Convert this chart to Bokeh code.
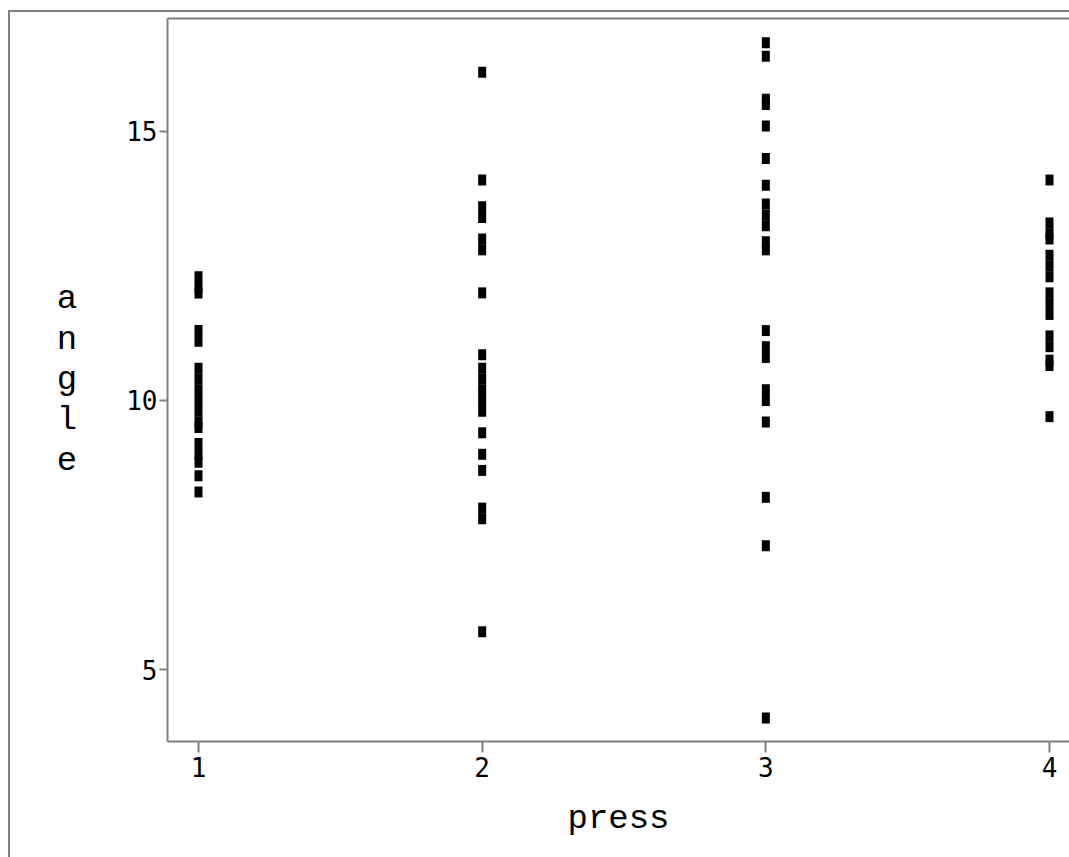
from bokeh.plotting import figure
from bokeh.models import ColumnDataSource, FixedTicker, LinearAxis, Range1d
from bokeh.embed import file_html
from bokeh.resources import INLINE

# Data
press_levels = [1, 2, 3, 4]
angle_press1 = [12.3, 12.1, 12.0, 11.3, 11.1, 10.6, 10.4, 10.2, 10.0, 9.8, 9.6, 9.5,
                9.2, 9.0, 8.85, 8.6, 8.3]
angle_press2 = [16.1, 14.1, 13.6, 13.4, 13.0, 12.8, 12.0, 10.85, 10.6, 10.4, 10.2,
                10.0, 9.8, 9.4, 9.0, 8.7, 8.0, 7.8, 5.7]
angle_press3 = [16.65, 16.4, 15.6, 15.5, 15.1, 14.5, 14.0, 13.65, 13.45, 13.25, 12.95,
                12.8, 11.3, 11.0, 10.8, 10.2, 10.0, 9.6, 8.2, 7.3, 4.1]
angle_press4 = [14.1, 13.3, 13.1, 13.0, 12.7, 12.5, 12.3, 12.0, 11.8, 11.6, 11.2,
                11.0, 10.75, 10.65, 9.7]
y_ticks = [5, 10, 15]
x_label = "press"
y_label = "angle"

xs, ys = [], []
for lvl, vals in zip(press_levels, [angle_press1, angle_press2, angle_press3, angle_press4]):
    xs += [lvl] * len(vals)
    ys += vals
src = ColumnDataSource(dict(x=xs, y=ys))

GRAY = "#808080"
TICK_FONT = "'DejaVu Sans Mono', monospace"
MONO = "'Liberation Mono', 'DejaVu Sans Mono', monospace"

p = figure(width=1069, height=857, output_backend="svg", toolbar_location=None,
           x_range=Range1d(0.8907, 4.0705), y_range=Range1d(3.662, 17.10),
           min_border_left=167, min_border_right=0, min_border_top=18, min_border_bottom=116,
           x_axis_location=None, y_axis_location=None)
p.outline_line_color = None
p.grid.visible = False
p.background_fill_color = "white"
p.border_fill_color = None
p.styles = {
    "background": (f"linear-gradient({GRAY},{GRAY}) 8px 10px / 2px 100% no-repeat, "
                   f"linear-gradient({GRAY},{GRAY}) 8px 10px / 100% 2px no-repeat, white")
}

xaxis = LinearAxis(ticker=FixedTicker(ticks=press_levels), axis_label=x_label)
yaxis = LinearAxis(ticker=FixedTicker(ticks=y_ticks), axis_label="\n".join(y_label))
top = LinearAxis(ticker=FixedTicker(ticks=[]))
for ax in (xaxis, yaxis, top):
    ax.axis_line_color = GRAY
    ax.axis_line_width = 2
    ax.major_tick_line_color = GRAY
    ax.major_tick_line_width = 2
    ax.major_tick_in = 0
    ax.minor_tick_line_color = None
    ax.major_label_text_font = TICK_FONT
    ax.major_label_text_font_size = "26px"
    ax.major_label_text_color = "black"
    ax.axis_label_text_font = MONO
    ax.axis_label_text_font_size = "34px"
    ax.axis_label_text_font_style = "normal"
    ax.axis_label_text_color = "black"
xaxis.major_tick_out = 11
xaxis.major_label_standoff = 4
xaxis.axis_label_standoff = 20
yaxis.major_tick_out = 8
yaxis.major_label_standoff = 2
yaxis.axis_label_standoff = 46
yaxis.axis_label_text_line_height = 1.06
if "axis_label_orientation" in yaxis.properties():
    yaxis.axis_label_orientation = "horizontal"
top.major_tick_out = 0
top.major_label_standoff = 0
top.major_label_text_font_size = "0px"
p.add_layout(xaxis, "below")
p.add_layout(yaxis, "left")
p.add_layout(top, "above")

p.rect(x="x", y="y", width=8, height=11, width_units="screen", height_units="screen",
       source=src, fill_color="black", line_color=None)

open("out.html", "w").write(file_html(p, INLINE))
